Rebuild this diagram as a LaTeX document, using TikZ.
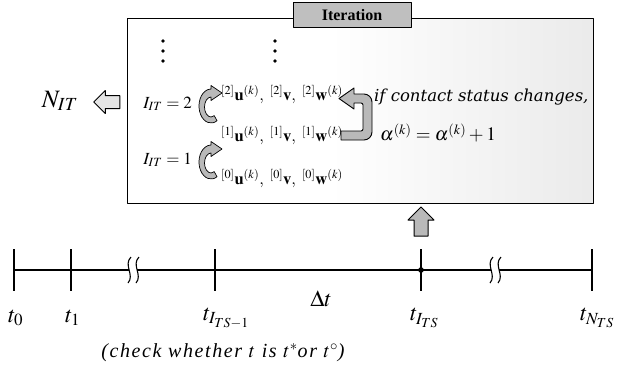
\documentclass[tikz,border=0pt]{standalone}
\usepackage{mathptmx}
\usepackage[no-math]{fontspec}
\setmainfont{Liberation Serif}
\newfontfamily\wideit{DejaVu Serif}
\usetikzlibrary{shapes.arrows}
\begin{document}
\begin{tikzpicture}[x=1pt,y=-1pt,line join=round]
\tikzset{
  frame/.style={draw=black,line width=1pt},
  blockarr/.style={draw=black,line width=1pt,fill=gray!30,inner sep=0pt},
  carr/.style={draw=black,line width=0.7pt,fill=gray!55},
  tlab/.style={font=\fontsize{23}{25}\selectfont,inner sep=0pt},
  rowtxt/.style={font=\fontsize{16.5}{18}\selectfont,inner sep=0pt,anchor=west},
  itlab/.style={font=\fontsize{17}{19}\selectfont,inner sep=0pt,anchor=east},
  tickline/.style={line width=1.2pt},
  dotc/.style={fill=black,circle,inner sep=1.3pt},
}
\useasboundingbox (0,0) rectangle (628,365);
% ---- iteration box
\fill[white] (127,18) rectangle (593,203);
\shade[left color=white,right color=black!8] (330,18) rectangle (593,203);
\draw[frame] (127,18) rectangle (593,203);
\node[draw=black,line width=0.8pt,fill=gray!50,minimum width=118,minimum height=25,
      font=\fontsize{16}{18}\selectfont\bfseries] (iter) at (352,15) {Iteration};
% vertical dots
\foreach \y/\n in {41/a,51/b,61/c}{
  \node[dotc] (d1\n) at (163,\y) {};
  \node[dotc] (d2\n) at (275,\y) {};
}
% iteration labels
\node[itlab] (it2) at (192,104) {$I_{IT}=2$};
\node[itlab] (it1) at (192,160) {$I_{IT}=1$};
% C arrows
\foreach \cy in {106,162}{
  \path[carr] (211,\cy) ++(60:12 and 17)
    arc[start angle=60,end angle=270,x radius=12,y radius=17]
    -- ++(0,-3.5) -- ++(11,7.5) -- ++(-11,7.5) -- ++(0,-3.5)
    arc[start angle=270,end angle=60,x radius=6.5,y radius=10] -- cycle;
}
% rows
\node[rowtxt] (r2) at (221,95) {${}^{[2]}\mathbf{u}^{(k)},\ {}^{[2]}\mathbf{v},\ {}^{[2]}\mathbf{w}^{(k)}$};
\node[rowtxt] (r1) at (221,136) {${}^{[1]}\mathbf{u}^{(k)},\ {}^{[1]}\mathbf{v},\ {}^{[1]}\mathbf{w}^{(k)}$};
\node[rowtxt] (r0) at (221,179) {${}^{[0]}\mathbf{u}^{(k)},\ {}^{[0]}\mathbf{v},\ {}^{[0]}\mathbf{w}^{(k)}$};
% U-turn arrow
\path[carr,line width=0.9pt] (341,131) [rounded corners=2pt]-- (363,131) -- (363,103) [sharp corners]-- (354,103)
  -- (354,109) -- (339,98.5) -- (354,88) -- (354,94)
  [rounded corners=8pt]-- (372,94) -- (372,140) [sharp corners]-- (341,140) -- cycle;
\node[font=\wideit\itshape\fontsize{16.5}{18}\selectfont,anchor=west,inner sep=0pt] (cond) at (374,97) {if contact status changes,};
\node[font=\fontsize{19}{21}\selectfont,anchor=west,inner sep=0pt] (alpha) at (380,133) {$\alpha^{(k)}=\alpha^{(k)}+1$};
% N_IT and left arrow
\node[font=\fontsize{25}{27}\selectfont,inner sep=0pt] (nit) at (60,101) {$N_{IT}$};
\node[single arrow,blockarr,fill=gray!20,shape border rotate=180,minimum height=26,minimum width=22,
      single arrow head extend=5pt,inner sep=6pt] (larr) at (110,102) {};
% up arrow
\node[single arrow,blockarr,fill=gray!55,shape border rotate=90,minimum height=29,minimum width=25,
      single arrow head extend=6pt,inner sep=6.5pt] (uarr) at (421,225) {};
% ---- time axis
\coordinate (a0) at (14,270);
\coordinate (aN) at (592,270);
\draw[tickline] (a0) -- (aN);
\foreach \x in {14,71,215,421,592}{
  \draw[tickline] (\x,249) -- (\x,291);
}
\foreach \x in {129,491}{
  \fill[white] (\x,265) rectangle (\x+8,275);
  \draw[line width=1.1pt] (\x+2,257) .. controls (\x-6,265) and (\x+6,275) .. (\x-1,283);
  \draw[line width=1.1pt] (\x+10,257) .. controls (\x+2,265) and (\x+14,275) .. (\x+7,283);
}
\node[dotc,inner sep=2pt] (tdot) at (421,270) {};
% labels
\node[tlab,anchor=west] (lt0) at (8,318) {$t_0$};
\node[tlab,anchor=west] (lt1) at (65,318) {$t_1$};
\node[tlab,anchor=west] (ltm) at (203,318) {$t_{I_{TS-1}}$};
\node[tlab] (ldt) at (321,299) {$\Delta t$};
\node[tlab,anchor=west] (lts) at (410,318) {$t_{I_{TS}}$};
\node[tlab,anchor=west] (ltn) at (580,318) {$t_{N_{TS}}$};
\node[font=\fontsize{20}{22}\selectfont\itshape\addfontfeature{LetterSpace=8},inner sep=0pt] (chk) at (223,353)
  {(check whether $t$ is $t^{*}$or $t^{\circ}$)};
\end{tikzpicture}
\end{document}
